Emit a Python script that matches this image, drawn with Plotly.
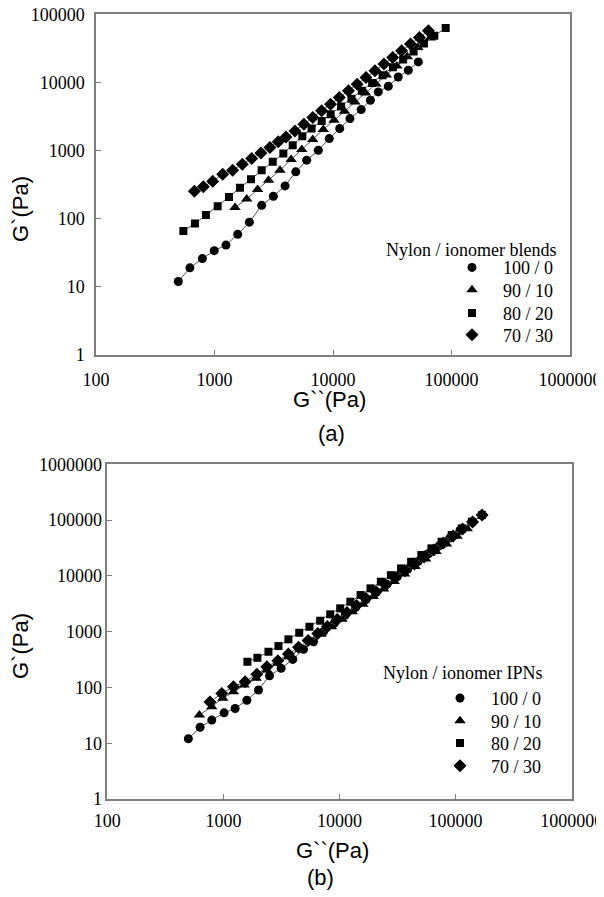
import plotly.graph_objects as go

# Browser page has an 8 px body margin; the figure is sized so it fits the 604x897 window.
PAGE_W, PAGE_H = 604, 897
OFF = 8
W, H = PAGE_W - OFF, PAGE_H - OFF

# ---------------- (a) Nylon / ionomer blends ----------------
a_x_100_0 = [495, 620, 790, 995, 1250, 1570, 1970, 2500, 3140, 3940, 4850, 6000, 7520, 9300,
             11400, 13900, 17300, 20700, 24100, 29300, 35500, 43200, 52500]
a_y_100_0 = [12, 19, 26, 34, 41, 59, 89, 157, 214, 303, 487, 724, 1010, 1500,
             2110, 2950, 4000, 5480, 7260, 8800, 12000, 15100, 20000]

a_x_90_10 = [1490, 1870, 2310, 2860, 3570, 4430, 5450, 6740, 8280,
             10200, 12500, 15300, 18800, 23000, 28200, 34600, 42400, 52000, 66000]
a_y_90_10 = [146, 194, 269, 368, 516, 740, 1038, 1455, 2040,
             2780, 3780, 5150, 7000, 9500, 12900, 17500, 23800, 32500, 45000]

a_x_80_20 = [546, 684, 847, 1064, 1325, 1640, 2032, 2500, 3100, 3810, 4570, 5510, 6600, 8030, 9550,
             11700, 14300, 17500, 21400, 26200, 32000, 39100, 47900, 58500, 71600, 89300]
a_y_80_20 = [66, 85, 113, 153, 209, 284, 380, 516, 684, 906, 1200, 1625, 2100, 2725, 3400,
             4420, 5770, 7530, 9820, 12800, 16700, 21800, 28500, 37200, 48500, 63100]

a_x_70_30 = [676, 805, 966, 1172, 1422, 1717, 2060, 2466, 2938, 3450, 4010, 4776,
             5680, 6750, 8020, 9530, 11300, 13500, 16000, 19000, 22600, 26900, 31900, 37900,
             45100, 53600, 63800]
a_y_70_30 = [254, 294, 356, 451, 516, 631, 765, 925, 1110, 1342, 1587, 1943,
             2440, 3050, 3830, 4800, 6010, 7530, 9440, 11800, 14800, 18600, 23300, 29200,
             36600, 45800, 57500]

# ---------------- (b) Nylon / ionomer IPNs ----------------
b_x_100_0 = [499, 630, 794, 1014, 1262, 1592, 2005, 2495, 3143, 3960, 4900, 5970, 7280, 9000, 11200,
             13800, 16900, 20800, 25600, 31500, 38800, 47800, 58700, 72300, 88900, 109000]
b_y_100_0 = [12, 19.3, 26, 35, 42, 59, 90, 162, 220, 318, 482, 660, 1000, 1410, 1980,
             2720, 3740, 5140, 7060, 9700, 13300, 18300, 25200, 34600, 47500, 65300]

b_x_90_10 = [621, 794, 988, 1220, 1506, 1914, 2366, 2925, 3630, 4580,
             5640, 6930, 8530, 10500, 12900, 15900, 19500, 24000, 29600, 36400, 44800,
             55100, 67800, 83400, 103000, 126000]
b_y_90_10 = [32, 45, 64, 84, 110, 146, 205, 270, 355, 482,
             658, 897, 1220, 1670, 2280, 3110, 4250, 5790, 7910, 10800, 14700,
             20100, 27400, 37400, 51100, 69700]

b_x_80_20 = [1610, 1963, 2443, 2980, 3630, 4500, 5510, 6820, 8320, 10140,
             12400, 15200, 18500, 22700, 27700, 33900, 41400, 50700, 61900, 75700, 92500,
             113000, 138000, 169000]
b_y_80_20 = [289, 340, 436, 552, 728, 955, 1224, 1570, 2040, 2614,
             3440, 4530, 5970, 7850, 10300, 13600, 17900, 23600, 31100, 40900, 53900,
             71000, 93500, 123000]

b_x_70_30 = [767, 968, 1220, 1538, 1941, 2366, 2944, 3630, 4440,
             5370, 6500, 7870, 9550, 11600, 14000, 16900, 20600, 24900, 30100, 36500,
             44200, 53600, 64900, 78500, 95100, 115000, 140000, 169000]
b_y_70_30 = [55, 78, 103, 127, 172, 235, 301, 397, 523,
             697, 929, 1240, 1650, 2200, 2930, 3910, 5200, 6930, 9250, 12300,
             16400, 21900, 29200, 38900, 51900, 69200, 92300, 123000]

series_labels = ["100 / 0", "90 / 10", "80 / 20", "70 / 30"]
symbols = ["circle", "triangle-up", "square", "diamond"]
sizes = [9, 10, 8, 10]

x_tickvals = [100, 1000, 10000, 100000, 1000000]
x_ticktext = ["100", "1000", "10000", "100000", "1000000"]
ya_tickvals = [1, 10, 100, 1000, 10000, 100000]
ya_ticktext = ["1", "10", "100", "1000", "10000", "100000"]
yb_tickvals = [1, 10, 100, 1000, 10000, 100000, 1000000]
yb_ticktext = ["1", "10", "100", "1000", "10000", "100000", "1000000"]

SERIF = "Liberation Serif, Times New Roman, serif"
SANS = "Liberation Sans, Arial, sans-serif"
AXC = "#7f7f7f"


def px(p):
    return (p - OFF) / W


def py(p):
    return 1 - (p - OFF) / H


# legend row positions (page pixels): marker x, row centres
leg_a_x, leg_a_rows = 472, [267.7, 290, 313.3, 335]
leg_b_x, leg_b_rows = 460, [698.3, 721, 743.3, 766]
ITEMW = 52

fig = go.Figure()

panels = [
    ("x", "y", 1, [(a_x_100_0, a_y_100_0), (a_x_90_10, a_y_90_10), (a_x_80_20, a_y_80_20), (a_x_70_30, a_y_70_30)]),
    ("x2", "y2", 5, [(b_x_100_0, b_y_100_0), (b_x_90_10, b_y_90_10), (b_x_80_20, b_y_80_20), (b_x_70_30, b_y_70_30)]),
]

for xa, ya, leg0, data in panels:
    for i, ((xs, ys), lab, sym, sz) in enumerate(zip(data, series_labels, symbols, sizes)):
        legname = "legend" if leg0 + i == 1 else "legend%d" % (leg0 + i)
        fig.add_trace(go.Scatter(x=xs, y=ys, mode="lines", xaxis=xa, yaxis=ya,
                                 line=dict(color="#555555", width=1), showlegend=False,
                                 hoverinfo="skip"))
        fig.add_trace(go.Scatter(x=xs, y=ys, mode="markers", xaxis=xa, yaxis=ya, name=lab,
                                 legend=legname,
                                 marker=dict(symbol=sym, size=sz, color="black",
                                             line=dict(width=0))))

axis_common = dict(type="log", showgrid=False, zeroline=False, showline=True, linecolor=AXC,
                   linewidth=1.5, mirror=True, ticks="inside", ticklen=5, tickcolor=AXC,
                   tickwidth=1.2, tickmode="array", automargin=False,
                   ticklabeloverflow="allow",
                   tickfont=dict(family=SERIF, size=18, color="black"))

legends = {}
for k in range(8):
    name = "legend" if k == 0 else "legend%d" % (k + 1)
    if k < 4:
        lx, ly = leg_a_x, leg_a_rows[k]
    else:
        lx, ly = leg_b_x, leg_b_rows[k - 4]
    legends[name] = dict(x=px(lx - 5 - ITEMW / 2), y=py(ly), xanchor="left", yanchor="middle",
                         bgcolor="rgba(0,0,0,0)", borderwidth=0,
                         font=dict(family=SERIF, size=18, color="black"),
                         itemwidth=ITEMW)

fig.update_layout(
    width=W, height=H, template="none",
    paper_bgcolor="white", plot_bgcolor="white",
    margin=dict(l=0, r=0, t=0, b=0),
    xaxis=dict(axis_common, domain=[px(96), px(570)], range=[2, 6], tickvals=x_tickvals,
               ticktext=x_ticktext, anchor="y", ticklabelstandoff=8),
    yaxis=dict(axis_common, domain=[py(355), py(14.3)], range=[0, 5], tickvals=ya_tickvals,
               ticktext=ya_ticktext, anchor="x", ticklabelstandoff=6),
    xaxis2=dict(axis_common, domain=[px(107.3), px(571.7)], range=[2, 6], tickvals=x_tickvals,
                ticktext=x_ticktext, anchor="y2", ticklabelstandoff=5),
    yaxis2=dict(axis_common, domain=[py(799), py(464.3)], range=[0, 6], tickvals=yb_tickvals,
                ticktext=yb_ticktext, anchor="x2", ticklabelstandoff=0),
    showlegend=True,
    **legends,
)

ann = [
    dict(text="Nylon / ionomer blends", x=px(558), y=py(250), xanchor="right", yanchor="middle",
         font=dict(family=SERIF, size=18, color="black")),
    dict(text="Nylon / ionomer IPNs", x=px(545), y=py(673), xanchor="right", yanchor="middle",
         font=dict(family=SERIF, size=18, color="black")),
    dict(text="G``(Pa)", x=px(329), y=py(399), xanchor="center", yanchor="middle",
         font=dict(family=SANS, size=22, color="black")),
    dict(text="(a)", x=px(331), y=py(433), xanchor="center", yanchor="middle",
         font=dict(family=SANS, size=22, color="black")),
    dict(text="G`(Pa)", x=px(20), y=py(209), xanchor="center", yanchor="middle", textangle=-90,
         font=dict(family=SANS, size=22, color="black")),
    dict(text="G``(Pa)", x=px(332), y=py(850), xanchor="center", yanchor="middle",
         font=dict(family=SANS, size=22, color="black")),
    dict(text="(b)", x=px(320), y=py(877), xanchor="center", yanchor="middle",
         font=dict(family=SANS, size=22, color="black")),
    dict(text="G`(Pa)", x=px(20), y=py(646), xanchor="center", yanchor="middle", textangle=-90,
         font=dict(family=SANS, size=22, color="black")),
]
for a in ann:
    a.update(xref="paper", yref="paper", showarrow=False)
fig.update_layout(annotations=ann)

fig.write_html("out.html")
